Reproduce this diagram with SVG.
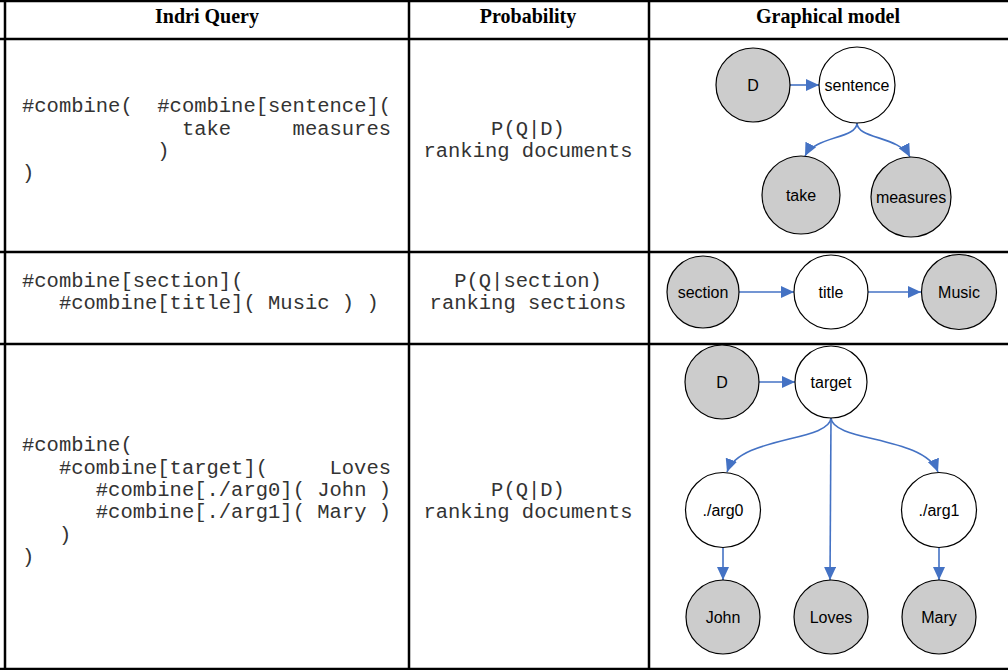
<svg xmlns="http://www.w3.org/2000/svg" width="1008" height="670" viewBox="0 0 1008 670">
<style>
.grid{stroke:#000;stroke-width:2.5;fill:none}
.hd{font-family:"Liberation Serif","Times New Roman",serif;font-weight:bold;font-size:20px;text-anchor:middle;fill:#000}
.mono{font-family:"Liberation Mono","Courier New",monospace;font-size:20.5px;fill:#333}
.mid{text-anchor:middle}
.end{text-anchor:end}
.obs{fill:#cccccc;stroke:#000;stroke-width:1.2}
.hid{fill:#fff;stroke:#000;stroke-width:1.2}
.lbl{font-family:"Liberation Sans",Arial,sans-serif;font-size:16px;text-anchor:middle;fill:#000}
.edge{stroke:#4472c4;stroke-width:1.6;fill:none;marker-end:url(#ah)}
</style>
<defs>
<marker id="ah" markerWidth="13" markerHeight="12" refX="13" refY="6" orient="auto" markerUnits="userSpaceOnUse">
<path d="M0,0 L13,6 L0,12 z" fill="#4472c4"/>
</marker>
</defs>
<rect width="1008" height="670" fill="#fff"/>
<g id="table">
<line class="grid" x1="0" y1="1" x2="1008" y2="1"/>
<line class="grid" x1="0" y1="39" x2="1008" y2="39"/>
<line class="grid" x1="0" y1="252" x2="1008" y2="252"/>
<line class="grid" x1="0" y1="344" x2="1008" y2="344"/>
<line class="grid" x1="0" y1="669" x2="1008" y2="669"/>
<line class="grid" x1="5" y1="0" x2="5" y2="670"/>
<line class="grid" x1="409" y1="0" x2="409" y2="670"/>
<line class="grid" x1="649" y1="0" x2="649" y2="670"/>
</g>
<g id="header">
<text class="hd" x="207" y="23">Indri Query</text>
<text class="hd" x="528" y="23">Probability</text>
<text class="hd" x="828" y="23">Graphical model</text>
</g>
<g id="queries">
<text class="mono" x="22" y="112">#combine(</text>
<text class="mono" x="157.3" y="112">#combine[sentence](</text>
<text class="mono" x="181.9" y="135">take</text>
<text class="mono" x="292.6" y="135">measures</text>
<text class="mono" x="157.3" y="157">)</text>
<text class="mono" x="22" y="179">)</text>
<text class="mono" x="22" y="287">#combine[section](</text>
<text class="mono" x="58.9" y="309">#combine[title]( Music ) )</text>
<text class="mono" x="22" y="451">#combine(</text>
<text class="mono" x="58.9" y="474">#combine[target](</text>
<text class="mono end" x="391" y="474">Loves</text>
<text class="mono" x="95.8" y="496">#combine[./arg0]( John )</text>
<text class="mono" x="95.8" y="518">#combine[./arg1]( Mary )</text>
<text class="mono" x="58.9" y="541">)</text>
<text class="mono" x="22" y="563">)</text>
</g>
<g id="probs">
<text class="mono mid" x="528" y="135">P(Q|D)</text>
<text class="mono mid" x="528" y="157">ranking documents</text>
<text class="mono mid" x="528" y="287">P(Q|section)</text>
<text class="mono mid" x="528" y="309">ranking sections</text>
<text class="mono mid" x="528" y="496">P(Q|D)</text>
<text class="mono mid" x="528" y="518">ranking documents</text>
</g>
<g id="connectors">
<path class="edge" d="M790,85 L819,85"/>
<path class="edge" d="M857,123 C857,139 815,136 805,156"/>
<path class="edge" d="M857,123 C857,139 899,136 910,157"/>
<path class="edge" d="M739,292 L794,292"/>
<path class="edge" d="M868,292 L921,292"/>
<path class="edge" d="M759,382 L795,382"/>
<path class="edge" d="M831,418 C829,442 740,436 727,472"/>
<path class="edge" d="M831,418 L830,580"/>
<path class="edge" d="M831,418 C833,442 924,436 938,472"/>
<path class="edge" d="M723,548 L723,580"/>
<path class="edge" d="M939,548 L939,580"/>
</g>
<g id="r1-D"><circle class="obs" cx="753" cy="85" r="37"/><text class="lbl" x="753" y="90.5">D</text></g>
<g id="r1-sentence"><circle class="hid" cx="857" cy="85" r="38"/><text class="lbl" x="857" y="90.5">sentence</text></g>
<g id="r1-take"><circle class="obs" cx="801" cy="195" r="39"/><text class="lbl" x="801" y="200.5">take</text></g>
<g id="r1-measures"><circle class="obs" cx="911" cy="197" r="40"/><text class="lbl" x="911" y="202.5">measures</text></g>
<g id="r2-section"><circle class="obs" cx="703" cy="292" r="36"/><text class="lbl" x="703" y="297.5">section</text></g>
<g id="r2-title"><circle class="hid" cx="831" cy="292" r="37"/><text class="lbl" x="831" y="297.5">title</text></g>
<g id="r2-Music"><circle class="obs" cx="959" cy="292" r="37.5"/><text class="lbl" x="959" y="297.5">Music</text></g>
<g id="r3-D"><circle class="obs" cx="722" cy="382" r="37"/><text class="lbl" x="722" y="387.5">D</text></g>
<g id="r3-target"><circle class="hid" cx="831" cy="382" r="36"/><text class="lbl" x="831" y="387.5">target</text></g>
<g id="r3-arg0"><circle class="hid" cx="723" cy="510" r="37.5"/><text class="lbl" x="723" y="515.5">./arg0</text></g>
<g id="r3-arg1"><circle class="hid" cx="939" cy="510" r="37.5"/><text class="lbl" x="939" y="515.5">./arg1</text></g>
<g id="r3-John"><circle class="obs" cx="723" cy="617" r="37"/><text class="lbl" x="723" y="622.5">John</text></g>
<g id="r3-Loves"><circle class="obs" cx="831" cy="617" r="37"/><text class="lbl" x="831" y="622.5">Loves</text></g>
<g id="r3-Mary"><circle class="obs" cx="939" cy="617" r="37"/><text class="lbl" x="939" y="622.5">Mary</text></g>
</svg>
